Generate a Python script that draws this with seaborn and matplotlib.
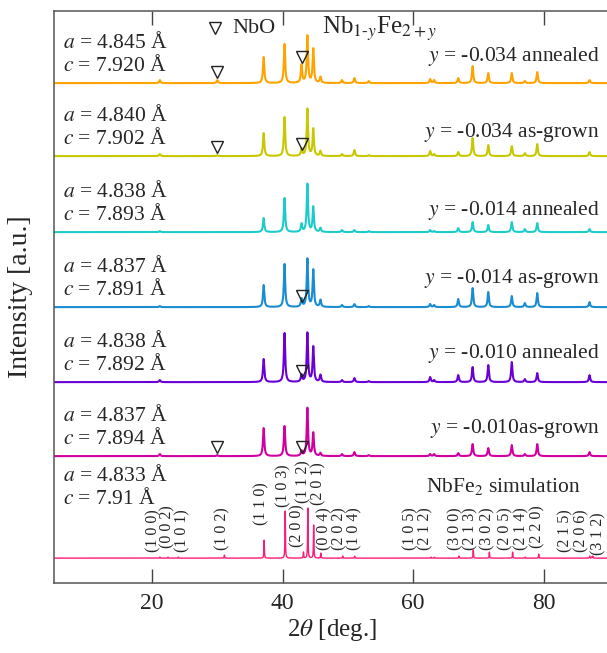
import numpy as np
import matplotlib
matplotlib.use("Agg")
import matplotlib.pyplot as plt
import seaborn as sns

# ---- data ----
# peak positions (2theta, deg) used for the measured patterns
exp_2theta = [21.2, 30.0, 37.1, 40.3, 42.9, 43.8, 44.7, 45.8, 49.1, 51.0, 53.2,
              62.6, 63.2, 66.9, 69.1, 71.5, 75.1, 77.1, 79.0, 87.0]

# peak heights (arb. units) per sample, same order as exp_2theta
h_034_ann = [3, 3, 26, 39, 18, 47, 34, 6, 3, 5, 2, 4, 3, 5, 17, 10, 10, 2, 11, 3]
h_034_grown = [2, 1, 23, 39, 7, 47, 27, 5, 2, 6, 1, 5, 2, 4, 18, 11, 10, 3, 12, 4]
h_014_ann = [1, 0, 14, 34, 8, 48, 25, 4, 2, 2, 1, 2, 1, 4, 10, 7, 10, 3, 9, 3]
h_014_grown = [1, 0, 22, 43, 8, 48, 37, 7, 2, 3, 1, 3, 2, 8, 19, 15, 11, 4, 14, 5]
h_010_ann = [2, 0, 23, 49, 7, 49, 35, 7, 2, 4, 1, 5, 2, 7, 15, 17, 20, 3, 9, 7]
h_010_grown = [2, 1, 28, 30, 5, 48, 23, 3, 2, 4, 1, 2, 2, 3, 12, 8, 11, 2, 12, 4]

sample_labels = ["-0.034 annealed", "-0.034 as-grown", "-0.014 annealed",
                 "-0.014 as-grown", "-0.010 annealed", "-0.010as-grown"]
a_values = ["4.845", "4.840", "4.838", "4.837", "4.838", "4.837"]
c_values = ["7.920", "7.902", "7.893", "7.891", "7.892", "7.894"]

# NbO marker heights above each pattern's baseline at 30.0 and 42.9 deg (None = no marker)
nbo_2theta = [30.0, 42.9]
nbo_marks = [[11, 26], [9, 12], [None, None], [None, 11], [None, 11], [9, 9]]

# NbFe2 simulation
sim_2theta = [21.21, 22.46, 24.04, 31.09, 37.18, 40.40, 43.20, 43.87, 44.76, 45.85,
              49.22, 51.04, 62.74, 63.27, 67.02, 69.20, 71.67, 75.23, 77.16, 79.22,
              87.04, 87.35, 87.50]
sim_height = [1, 1, 1, 3, 18, 47, 6, 50, 33, 5, 2, 2, 1, 1, 2, 8, 6, 6, 1, 4, 2, 1, 2]
sim_hkl = ["(1 0 0)", "(0 0 2)", "(1 0 1)", "(1 0 2)", "(1 1 0)", "(1 0 3)", "(2 0 0)",
           "(1 1 2)", "(2 0 1)", "(0 0 4)", "(2 0 2)", "(1 0 4)", "(1 0 5)", "(2 1 2)",
           "(3 0 0)", "(2 1 3)", "(3 0 2)", "(2 0 5)", "(2 1 4)", "(2 2 0)", "(2 1 5)",
           "(2 0 6)", "(3 1 2)"]

# ---- layout ----
colors = ["#FFA300", "#C8C800", "#1ECBCB", "#1A8CD2", "#6A00D6", "#D000A0"]
sim_color = "#FF1A7A"
offsets = [500, 427, 351, 276, 201, 127]
sim_offset = 25
right_label_y = [522, 446, 368, 300, 225, 150]
hkl_x = [20.16, 22.36, 24.65, 30.76, 36.76, 40.11, 42.30, 43.15, 45.5, 46.45, 48.66,
         50.95, 59.61, 61.90, 66.48, 68.77, 71.31, 74.11, 76.65, 79.09, 83.27, 85.81, 88.36]
hkl_y = [31, 35, 31, 33, 58, 76, 36, 80, 78, 33, 33, 33, 33, 33, 33, 33, 33, 33, 33,
         35, 31, 31, 28]

sns.set_theme(style="ticks")
plt.rcParams["font.family"] = ["Liberation Serif", "DejaVu Serif"]
plt.rcParams["mathtext.fontset"] = "stix"

grid = np.linspace(5, 90, 17001)


def pattern(pos, hts, hw):
    y = np.zeros_like(grid)
    for p, h in zip(pos, hts):
        y += h / (1 + ((grid - p) / hw) ** 2)
    return y


fig = plt.figure(figsize=(6.07, 6.53), dpi=100)
# axes run slightly past the right edge (reference is cropped there)
ax = fig.add_axes([0.089, 0.107, 0.9144, 0.876])

all_heights = [h_034_ann, h_034_grown, h_014_ann, h_014_grown, h_010_ann, h_010_grown]
for i, hts in enumerate(all_heights):
    y = pattern(exp_2theta, hts, 0.12) + offsets[i]
    sns.lineplot(x=grid, y=y, color=colors[i], lw=1.5, ax=ax, estimator=None)
    ax.text(6.33, offsets[i] + 35.5, r"$a$ = " + a_values[i] + " Å", fontsize=15.5,
            va="baseline", ha="left")
    ax.text(6.33, offsets[i] + 12, r"$c$ = " + c_values[i] + " Å", fontsize=15.5,
            va="baseline", ha="left")
    ax.text(88.6, right_label_y[i], r"$y$ = " + sample_labels[i], fontsize=15.5,
            va="baseline", ha="right")
    for xp, m in zip(nbo_2theta, nbo_marks[i]):
        if m is not None:
            ax.plot(xp, offsets[i] + m, marker="v", ms=8, mfc="none", mec="#222222",
                    mew=1.0, ls="none")

ysim = pattern(sim_2theta, sim_height, 0.04) + sim_offset
sns.lineplot(x=grid, y=ysim, color=sim_color, lw=1.0, ax=ax, estimator=None)
for lab, xl, yl in zip(sim_hkl, hkl_x, hkl_y):
    ax.text(xl, yl, lab, rotation=90, fontsize=11.5, ha="center", va="bottom")
ax.text(6.33, 102, r"$a$ = 4.833 Å", fontsize=15.5, va="baseline", ha="left")
ax.text(6.33, 79, r"$c$ = 7.91 Å", fontsize=15.5, va="baseline", ha="left")
ax.text(61.9, 91.3, r"NbFe$_2$ simulation", fontsize=15.5, va="baseline", ha="left")

# header
ax.plot(29.69, 554.7, marker="v", ms=8, mfc="none", mec="#222222", mew=1.0, ls="none")
ax.text(32.37, 549.7, "NbO", fontsize=16, va="baseline", ha="left")
ax.text(46.07, 549.7, r"Nb$_{1\text{-}y}$Fe$_{2+y}$", fontsize=18, va="baseline",
        ha="left")

ax.set_xlim(5, 90)
ax.set_ylim(0, 572)
ax.set_xticks([20, 40, 60, 80])
ax.set_yticks([])
ax.tick_params(axis="x", direction="in", length=10, width=1.0, top=True,
               labelsize=17, pad=7, color="#444444")
for s in ax.spines.values():
    s.set_linewidth(1.1)
    s.set_color("#555555")
ax.set_xlabel(r"2$\theta$ [deg.]", fontsize=18, labelpad=2)
ax.set_ylabel("Intensity [a.u.]", fontsize=20)
ax.yaxis.set_label_coords(-0.038, 0.5)

fig.savefig("out.png", dpi=100)
